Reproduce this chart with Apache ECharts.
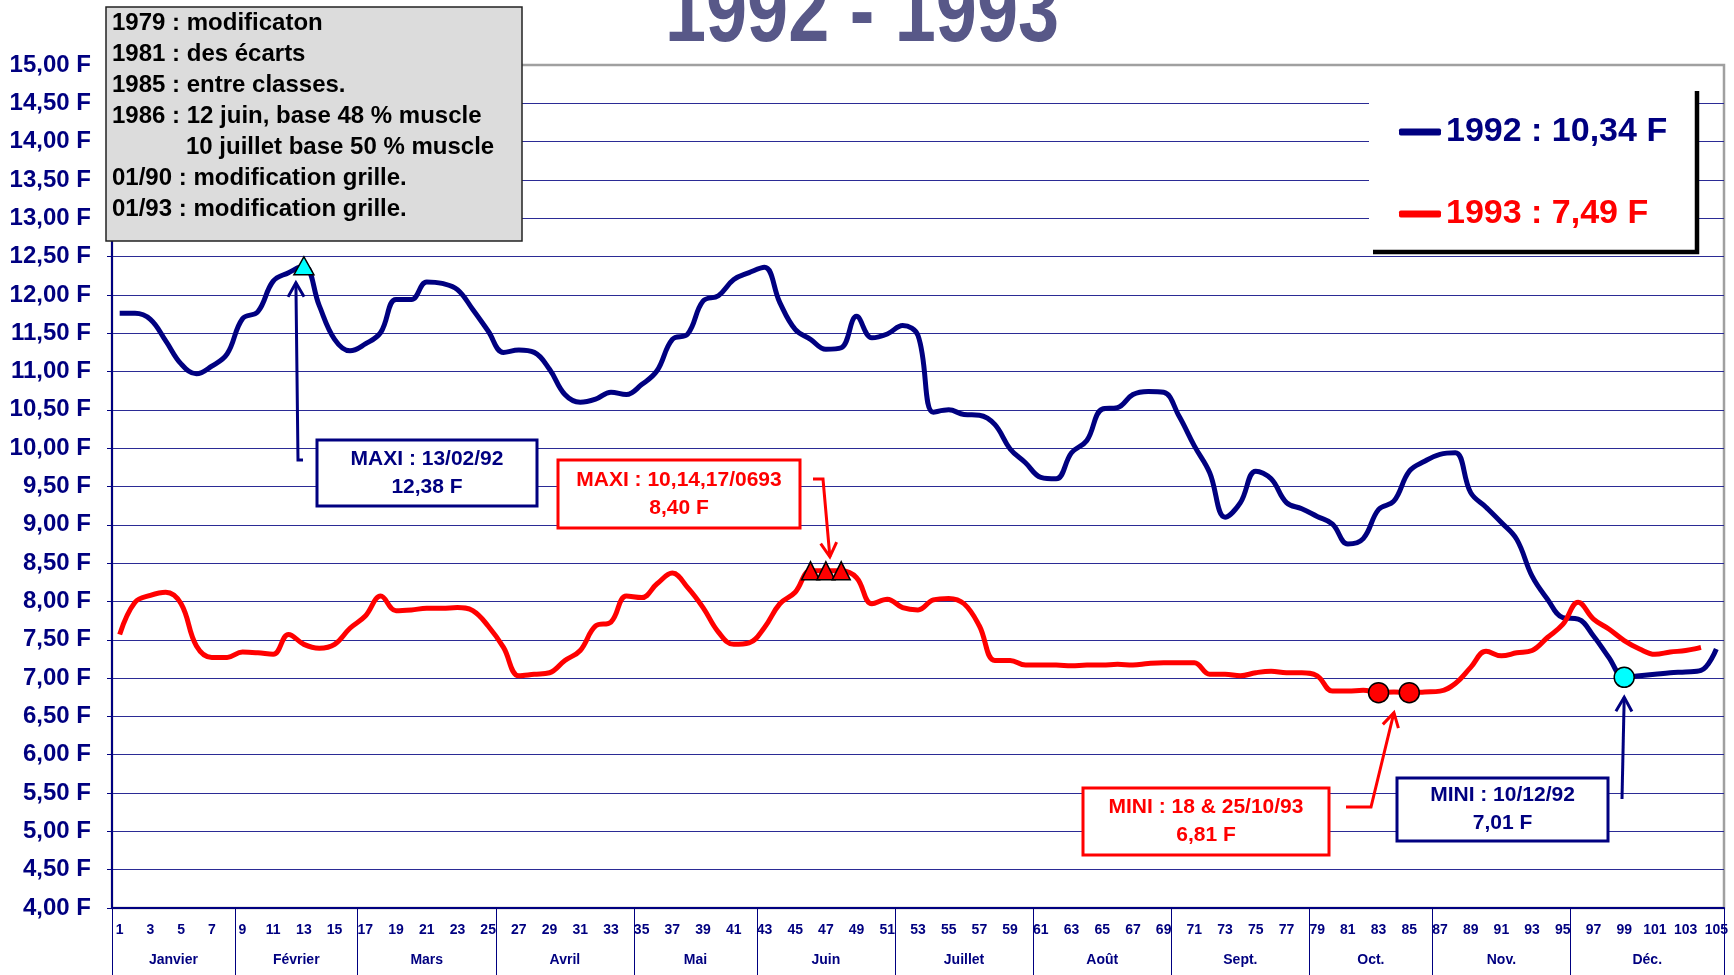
<!DOCTYPE html>
<html>
<head>
<meta charset="utf-8">
<title>1992 - 1993</title>
<script src="https://cdn.jsdelivr.net/npm/echarts@6/dist/echarts.min.js"></script>
<style>
  html, body { margin: 0; padding: 0; background: #fff; }
  #chart { width: 1734px; height: 975px; }
</style>
</head>
<body>
<div id="chart"></div>
<script>
// ---- données ----
const weeks = Array.from({ length: 105 }, (_, i) => String(i + 1));
const months = ['Janvier', 'Février', 'Mars', 'Avril', 'Mai', 'Juin', 'Juillet', 'Août', 'Sept.', 'Oct.', 'Nov.', 'Déc.'];
const monthWeeks = [8, 8, 9, 9, 8, 9, 9, 9, 9, 8, 9, 10];

const titre = '1992 - 1993';
const names = ['1992 : 10,34 F', '1993 : 7,49 F'];

const prix1992 = [
  11.76, 11.76, 11.68, 11.40, 11.10, 10.97, 11.07, 11.23, 11.69, 11.78,
  12.18, 12.29, 12.38, 11.86, 11.42, 11.27, 11.36, 11.51, 11.94, 11.94,
  12.17, 12.15, 12.07, 11.81, 11.53, 11.25, 11.28, 11.25, 11.03, 10.70,
  10.60, 10.64, 10.73, 10.70, 10.83, 11.01, 11.42, 11.49, 11.92, 11.99,
  12.20, 12.29, 12.36, 11.90, 11.55, 11.42, 11.29, 11.31, 11.72, 11.44,
  11.49, 11.60, 11.47, 10.47, 10.50, 10.44, 10.43, 10.31, 9.99, 9.81,
  9.62, 9.60, 9.94, 10.10, 10.51, 10.53, 10.70, 10.74, 10.73, 10.42,
  10.03, 9.68, 9.10, 9.29, 9.70, 9.60, 9.29, 9.21, 9.11, 9.01,
  8.75, 8.82, 9.20, 9.31, 9.70, 9.83, 9.92, 9.94, 9.42, 9.23,
  9.03, 8.81, 8.33, 8.03, 7.79, 7.77, 7.55, 7.27, 7.01, 7.03,
  7.05, 7.07, 7.08, 7.10, 7.38
];

const prix1993 = [
  7.57, 7.99, 8.08, 8.12, 7.97, 7.42, 7.27, 7.27, 7.34, 7.33,
  7.31, 7.57, 7.44, 7.39, 7.44, 7.65, 7.81, 8.07, 7.88, 7.89,
  7.91, 7.91, 7.92, 7.88, 7.68, 7.40, 7.03, 7.05, 7.07, 7.23,
  7.36, 7.68, 7.73, 8.07, 8.05, 8.23, 8.37, 8.18, 7.92, 7.60,
  7.44, 7.46, 7.66, 7.97, 8.12, 8.40, 8.40, 8.40, 8.31, 7.97,
  8.03, 7.92, 7.89, 8.02, 8.04, 7.97, 7.68, 7.23, 7.23, 7.17,
  7.17, 7.17, 7.16, 7.17, 7.17, 7.18, 7.17, 7.19, 7.20, 7.20,
  7.20, 7.05, 7.05, 7.03, 7.07, 7.09, 7.07, 7.07, 7.03, 6.83,
  6.83, 6.84, 6.81, 6.82, 6.81, 6.82, 6.83, 6.93, 7.14, 7.35,
  7.29, 7.33, 7.36, 7.53, 7.70, 7.99, 7.77, 7.64, 7.49, 7.38,
  7.31, 7.34, 7.36, 7.40, null
];

// semaines marquées (numéros de semaine)
const maxi1992 = [13];
const mini1992 = [99];
const maxi1993 = [46, 47, 48];
const mini1993 = [83, 85];

const notes = [
  '1979 : modificaton',
  '1981 : des écarts',
  '1985 : entre classes.',
  '1986 : 12 juin, base 48 % muscle',
  '10 juillet base 50 % muscle',
  '01/90 : modification grille.',
  '01/93 : modification grille.'
];
const notesIndent = [0, 0, 0, 0, 1, 0, 0];

const bulles = [
  { text: 'MAXI : 13/02/92\n12,38 F', serie: 0 },
  { text: 'MAXI : 10,14,17/0693\n8,40 F', serie: 1 },
  { text: 'MINI : 18 & 25/10/93\n6,81 F', serie: 1 },
  { text: 'MINI : 10/12/92\n7,01 F', serie: 0 }
];

// ---- styles ----
const NAVY = '#000080';
const RED = '#ff0000';
const GRID = '#2b2b95';
const SANS = "'Liberation Sans', Arial, sans-serif";

// limites et centres des mois (en semaines)
const monthBounds = [0];
monthWeeks.forEach(n => monthBounds.push(monthBounds[monthBounds.length - 1] + n));
const monthCenters = months.map((m, i) => (monthBounds[i] + monthBounds[i + 1]) / 2);

const yTicks = (15 - 4) / 0.5 + 1;
const splitColors = [];
for (let i = 0; i < yTicks; i++) splitColors.push(i === yTicks - 1 ? '#a0a0a0' : GRID);

const chart = echarts.init(document.getElementById('chart'));

function markers(idxs, data, symbol, size, color) {
  return idxs.map(w => ({
    coord: [w - 1, data[w - 1]],
    symbol: symbol,
    symbolSize: size,
    itemStyle: { color: color, borderColor: '#000', borderWidth: 1.5 }
  }));
}

const option = {
  animation: false,
  backgroundColor: '#fff',
  legend: {
    orient: 'vertical',
    left: 1399,
    top: 115,
    padding: 0,
    itemGap: 48,
    itemWidth: 42,
    itemHeight: 7,
    icon: 'roundRect',
    z: 10,
    textStyle: { fontSize: 34, fontWeight: 'bold', fontFamily: SANS },
    data: [
      { name: names[0], textStyle: { color: NAVY } },
      { name: names[1], textStyle: { color: RED } }
    ]
  },
  grid: {
    left: 112, right: 10, top: 65, bottom: 67,
    show: true, borderColor: '#a0a0a0', borderWidth: 2.5
  },
  xAxis: [{
    type: 'category',
    data: weeks,
    boundaryGap: true,
    axisLine: { lineStyle: { color: NAVY, width: 2 } },
    axisTick: { interval: 0, length: 32, lineStyle: { color: NAVY, width: 1 } },
    axisLabel: { interval: 1, margin: 15, color: NAVY, fontSize: 14, fontWeight: 'bold', fontFamily: SANS },
    splitLine: { show: false }
  }, {
    type: 'value',
    position: 'bottom',
    min: 0,
    max: 105,
    axisLine: { show: false },
    splitLine: { show: false },
    axisTick: { show: true, customValues: monthBounds, length: 67, lineStyle: { color: NAVY, width: 1 } },
    axisLabel: {
      customValues: monthCenters,
      margin: 45,
      color: NAVY, fontSize: 14, fontWeight: 'bold', fontFamily: SANS,
      formatter: v => months[monthCenters.indexOf(v)]
    }
  }],
  yAxis: {
    type: 'value',
    min: 4,
    max: 15,
    interval: 0.5,
    axisLine: { show: true, lineStyle: { color: NAVY, width: 2 } },
    axisTick: { show: true, length: 5, lineStyle: { color: NAVY, width: 1 } },
    axisLabel: {
      margin: 21, color: NAVY, fontSize: 24, fontWeight: 'bold', fontFamily: SANS,
      formatter: v => v.toFixed(2).replace('.', ',') + ' F'
    },
    splitLine: { lineStyle: { color: splitColors, width: 1 } }
  },
  series: [{
    name: names[0],
    type: 'line',
    data: prix1992,
    smooth: 0.4,
    symbol: 'none',
    lineStyle: { color: NAVY, width: 5 },
    itemStyle: { color: NAVY },
    markPoint: {
      label: { show: false },
      data: markers(maxi1992, prix1992, 'triangle', [20, 18], '#00ffff')
        .concat(markers(mini1992, prix1992, 'circle', 20, '#00ffff'))
    }
  }, {
    name: names[1],
    type: 'line',
    data: prix1993,
    smooth: 0.4,
    symbol: 'none',
    lineStyle: { color: RED, width: 5 },
    itemStyle: { color: RED },
    markPoint: {
      label: { show: false },
      data: markers(maxi1993, prix1993, 'triangle', [18, 18], RED)
        .concat(markers(mini1993, prix1993, 'circle', 20, RED))
    }
  }]
};

chart.setOption(option);

// ---- titre, encadrés, flèches ----
function px(week, val) {
  return chart.convertToPixel({ xAxisIndex: 0, yAxisIndex: 0 }, [week - 1, val]);
}

function arrow(points, color) {
  const tip = points[points.length - 1];
  const prev = points[points.length - 2];
  const dx = tip[0] - prev[0], dy = tip[1] - prev[1];
  const len = Math.sqrt(dx * dx + dy * dy);
  const ux = dx / len, uy = dy / len;
  const back = 14, half = 8;
  const a = [tip[0] - back * ux - half * uy, tip[1] - back * uy + half * ux];
  const b = [tip[0] - back * ux + half * uy, tip[1] - back * uy - half * ux];
  return [
    { type: 'polyline', z: 20, shape: { points: points }, style: { stroke: color, lineWidth: 3, fill: null } },
    { type: 'polyline', z: 20, shape: { points: [a, tip, b] }, style: { stroke: color, lineWidth: 3, fill: null } }
  ];
}

function bulle(b, x, y, w, h) {
  const color = b.serie === 0 ? NAVY : RED;
  return [
    { type: 'rect', z: 15, shape: { x: x, y: y, width: w, height: h },
      style: { fill: '#fff', stroke: color, lineWidth: 3 } },
    { type: 'text', z: 16, x: x + w / 2, y: y + h / 2,
      style: { text: b.text, fill: color, font: 'bold 21px ' + SANS, align: 'center', verticalAlign: 'middle', lineHeight: 28 } }
  ];
}

const pMax92 = px(maxi1992[0], prix1992[maxi1992[0] - 1]);
const pMin92 = px(mini1992[0], prix1992[mini1992[0] - 1]);
const pMax93 = px(maxi1993[1], prix1993[maxi1993[1] - 1]);
const pMin93a = px(mini1993[0], prix1993[mini1993[0] - 1]);
const pMin93b = px(mini1993[1], prix1993[mini1993[1] - 1]);

let graphics = [];

// titre (police étroite simulée)
graphics.push({ type: 'text', z: 30, x: 862, y: 16, scaleX: 0.82,
  style: { text: titre, fill: '#585888', font: 'bold 90px ' + SANS, align: 'center', verticalAlign: 'middle' } });

// cadre des notes
graphics.push({ type: 'rect', z: 15, shape: { x: 106, y: 7, width: 416, height: 234 },
  style: { fill: '#dcdcdc', stroke: '#222', lineWidth: 1.5 } });
notes.forEach((t, i) => {
  graphics.push({ type: 'text', z: 16, x: 112 + notesIndent[i] * 74, y: 23 + i * 31,
    style: { text: t, fill: '#000', font: 'bold 24px ' + SANS, verticalAlign: 'middle' } });
});

// cadre de la légende
graphics.push({ type: 'rect', z: 5, shape: { x: 1369, y: 89, width: 329, height: 165 }, style: { fill: '#fff' } });
graphics.push({ type: 'polyline', z: 6, shape: { points: [[1697, 91], [1697, 252], [1373, 252]] },
  style: { stroke: '#000', lineWidth: 4.5, fill: null } });

// bulles
graphics = graphics.concat(bulle(bulles[0], 317, 440, 220, 66));
graphics = graphics.concat(bulle(bulles[1], 558, 460, 242, 68));
graphics = graphics.concat(bulle(bulles[2], 1083, 788, 246, 67));
graphics = graphics.concat(bulle(bulles[3], 1397, 778, 211, 63));

// flèches
graphics = graphics.concat(arrow([[303, 460], [298, 460], [pMax92[0] - 8, pMax92[1] + 17]], NAVY));
graphics = graphics.concat(arrow([[813, 479], [823, 479], [pMax93[0] + 4, pMax93[1] - 14]], RED));
graphics = graphics.concat(arrow([[1346, 807], [1371, 807], [(pMin93a[0] + pMin93b[0]) / 2, pMin93a[1] + 20]], RED));
graphics = graphics.concat(arrow([[1622, 799], [pMin92[0], pMin92[1] + 20]], NAVY));

chart.setOption({ graphic: graphics });
</script>
</body>
</html>
